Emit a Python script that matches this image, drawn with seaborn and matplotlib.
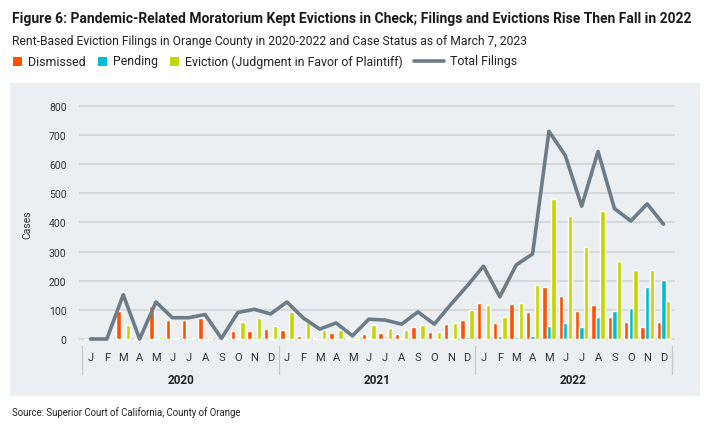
import numpy as np
import pandas as pd
import matplotlib
matplotlib.use("Agg")
import matplotlib.pyplot as plt
import matplotlib.transforms as mtransforms
from matplotlib.patches import Rectangle
from matplotlib.lines import Line2D
import seaborn as sns

# datos (ene 2020 - dic 2022)
years = ["2020", "2021", "2022"]
month_letters = ["J", "F", "M", "A", "M", "J", "J", "A", "S", "O", "N", "D"]

dismissed = [0, 0, 97, 0, 114, 64, 66, 73, 0, 28, 27, 36,
             32, 10, 4, 20, 4, 17, 20, 17, 41, 23, 52, 66,
             124, 55, 119, 92, 179, 147, 96, 116, 76, 60, 42, 59]
pending = [0, 0, 3, 0, 1, 2, 1, 1, 0, 3, 1, 2,
           3, 1, 1, 1, 1, 2, 1, 3, 1, 2, 5, 7,
           3, 9, 7, 9, 44, 56, 41, 77, 97, 106, 179, 202]
eviction = [0, 0, 48, 0, 8, 3, 3, 6, 2, 58, 72, 44,
            91, 60, 31, 32, 8, 48, 38, 31, 48, 24, 55, 98,
            117, 77, 125, 185, 482, 421, 316, 441, 268, 236, 238, 130]
total = [0, 0, 152, 0, 127, 73, 73, 84, 2, 91, 102, 86,
         127, 72, 34, 55, 11, 68, 65, 51, 93, 51, 118, 182,
         250, 145, 254, 292, 713, 630, 456, 644, 448, 405, 464, 394]

status_names = ["Dismissed", "Pending", "Eviction (Judgment in Favor of Plaintiff)"]
colors = ["#fe5200", "#00bcd6", "#c5d500"]
line_color = "#6c7d89"
panel_color = "#eceff2"
grid_color = "#cfd3d6"

n = len(total)
idx = np.arange(n)
df = pd.DataFrame({
    "idx": np.tile(idx, 3),
    "status": np.repeat(status_names, n),
    "cases": dismissed + pending + eviction,
})

sns.set_theme(style="white")
plt.rcParams["font.family"] = ["Roboto", "DejaVu Sans"]

fig = plt.figure(figsize=(7.1, 4.31), dpi=100)
fig.patch.set_facecolor("white")


def fit_width(t, target_px):
    # ajusta el tamaño de la fuente para que el texto ocupe el ancho deseado
    fig.canvas.draw()
    w = t.get_window_extent().width
    t.set_fontsize(t.get_fontsize() * target_px / w)
    fig.canvas.draw()
    return t.get_window_extent()


# panel gris de fondo
fig.add_artist(Rectangle((10 / 710, 34 / 431), 690 / 710, 313 / 431,
                         transform=fig.transFigure, facecolor=panel_color,
                         edgecolor="none", zorder=0))

ax = fig.add_axes([0.1113, 0.2044, 0.8394, 0.5575])
ax.set_facecolor("none")

sns.barplot(data=df, x="idx", y="cases", hue="status", hue_order=status_names,
            palette=colors, saturation=1, width=0.84, gap=0.05, legend=False,
            ax=ax, zorder=3)
sns.lineplot(x=idx, y=total, color=line_color, linewidth=2.6, ax=ax,
             zorder=5, clip_on=False)

ax.set_xlim(-0.7, n - 0.3)
ax.set_ylim(-10, 815)
ax.set_yticks(range(0, 801, 100))
ax.yaxis.grid(True, color=grid_color, linewidth=1.1, zorder=0)
ax.set_axisbelow(True)
for s in ax.spines.values():
    s.set_visible(False)

ax.set_xticks(idx)
ax.set_xticklabels(month_letters * len(years))
ax.tick_params(axis="both", length=0, colors="#333333")
ax.tick_params(axis="x", pad=7, labelsize=8)
ax.tick_params(axis="y", pad=9, labelsize=7.5)
ax.set_xlabel("")
ax.set_ylabel("Cases", fontsize=7.5, color="#333333")
ax.yaxis.set_label_coords(-0.079, 0.49)

# etiquetas de año y separadores
trans = mtransforms.blended_transform_factory(ax.transData, ax.transAxes)
for i, yr in enumerate(years):
    ax.text(i * 12 + 5.5, -0.155, yr, transform=trans, ha="center", va="center",
            fontsize=8.5, fontweight="bold", color="#222222")
for b in range(len(years) + 1):
    ax.plot([b * 12 - 0.5] * 2, [-0.015, -0.135], transform=trans,
            color="#c4c8cc", linewidth=0.9, clip_on=False)

# titulo, subtitulo y fuente
title = fig.text(12 / 710, 1 - 19 / 431,
                 "Figure 6: Pandemic-Related Moratorium Kept Evictions in Check; "
                 "Filings and Evictions Rise Then Fall in 2022",
                 fontsize=10, fontweight="bold", color="#1a1a1a", va="center")
fit_width(title, 680)
sub = fig.text(12 / 710, 1 - 41 / 431,
               "Rent-Based Eviction Filings in Orange County in 2020-2022 and "
               "Case Status as of March 7, 2023",
               fontsize=9, color="#222222", va="center")
fit_width(sub, 516)
src = fig.text(12 / 710, 1 - 413 / 431,
               "Source: Superior Court of California, County of Orange",
               fontsize=6.5, color="#222222", va="center")
fit_width(src, 229)

# leyenda manual
leg_size = 8.9
ly = 1 - 62 / 431
sq_w, sq_h = 9 / 710, 9 / 431
x0 = 13 / 710
for name, col in zip(status_names, colors):
    fig.add_artist(Rectangle((x0, ly - sq_h / 2), sq_w, sq_h,
                             transform=fig.transFigure, facecolor=col,
                             edgecolor="none"))
    t = fig.text(x0 + 15 / 710, ly, name, fontsize=leg_size,
                 color="#222222", va="center")
    fig.canvas.draw()
    bb = t.get_window_extent()
    x0 = bb.x1 / 710 + 12 / 710
fig.add_artist(Line2D([x0, x0 + 30 / 710], [ly, ly], transform=fig.transFigure,
                      color=line_color, linewidth=2.6))
fig.text(x0 + 36 / 710, ly, "Total Filings", fontsize=leg_size, color="#222222",
         va="center")

fig.savefig("out.png", dpi=100)
